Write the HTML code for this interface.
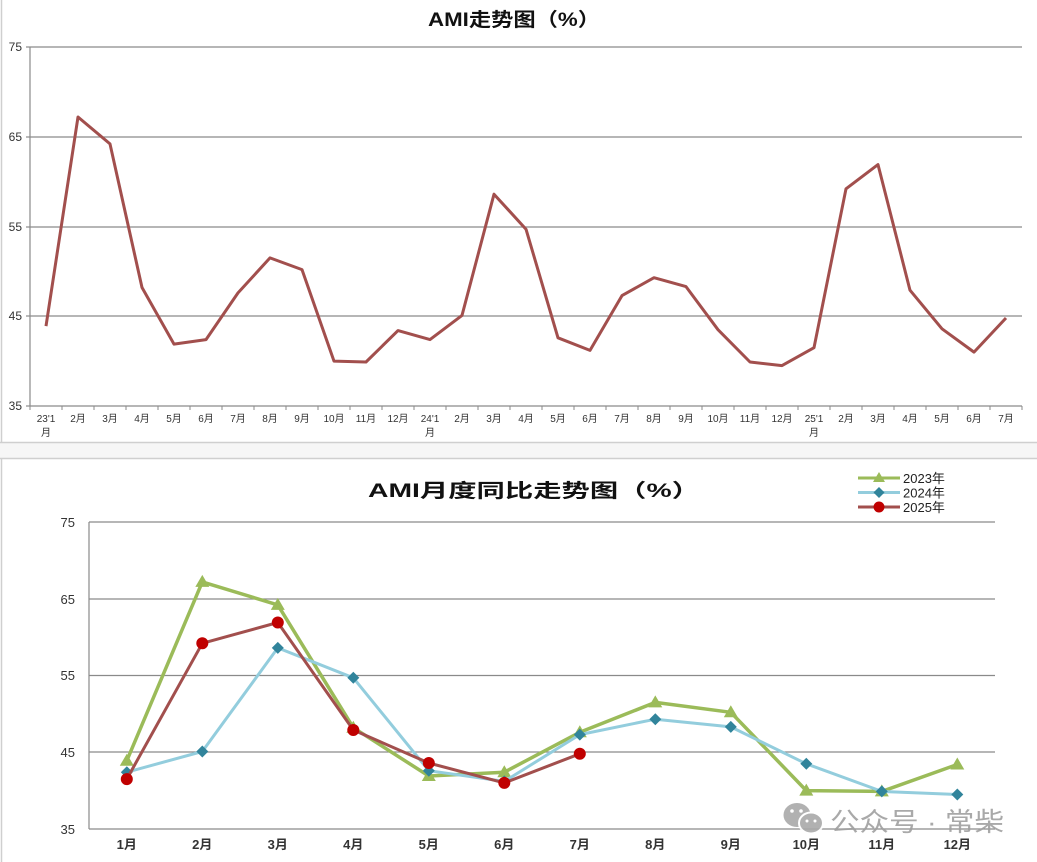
<!DOCTYPE html>
<html><head><meta charset="utf-8"><style>
html,body{margin:0;padding:0;background:#fff;}
svg{display:block;}
</style></head><body>
<svg width="1037" height="862" viewBox="0 0 1037 862" xmlns="http://www.w3.org/2000/svg" font-family="'Liberation Sans','Noto Sans CJK SC',sans-serif">
<rect x="0" y="0" width="1037" height="862" fill="#fff"/>
<!-- panel separation -->
<rect x="0" y="443" width="1037" height="15" fill="#f6f6f6"/>
<line x1="0" y1="442.5" x2="1037" y2="442.5" stroke="#cfcfcf" stroke-width="1.5"/>
<line x1="0" y1="458.5" x2="1037" y2="458.5" stroke="#cfcfcf" stroke-width="1.5"/>
<line x1="1.5" y1="0" x2="1.5" y2="442" stroke="#cfcfcf" stroke-width="1.5"/>
<line x1="1.5" y1="459" x2="1.5" y2="862" stroke="#cfcfcf" stroke-width="1.5"/>

<!-- ===== TOP CHART ===== -->
<text x="514" y="26" text-anchor="middle" font-size="19" font-weight="bold" fill="#111" textLength="172" lengthAdjust="spacingAndGlyphs">AMI走势图（%）</text>
<g stroke="#8a8a8a" stroke-width="1.2">
<line x1="30" y1="47" x2="1022" y2="47"/>
<line x1="30" y1="137" x2="1022" y2="137"/>
<line x1="30" y1="227" x2="1022" y2="227"/>
<line x1="30" y1="316" x2="1022" y2="316"/>
<line x1="30" y1="406" x2="1022" y2="406"/>
<line x1="30" y1="47" x2="30" y2="406"/>
<line x1="26" y1="47" x2="30" y2="47"/><line x1="26" y1="137" x2="30" y2="137"/><line x1="26" y1="227" x2="30" y2="227"/><line x1="26" y1="316" x2="30" y2="316"/><line x1="26" y1="406" x2="30" y2="406"/>
</g>
<g stroke="#8a8a8a" stroke-width="1">
<path d="M30 406v4M62 406v4M94 406v4M126 406v4M158 406v4M190 406v4M222 406v4M254 406v4M286 406v4M318 406v4M350 406v4M382 406v4M414 406v4M446 406v4M478 406v4M510 406v4M542 406v4M574 406v4M606 406v4M638 406v4M670 406v4M702 406v4M734 406v4M766 406v4M798 406v4M830 406v4M862 406v4M894 406v4M926 406v4M958 406v4M990 406v4M1022 406v4"/>
</g>
<g font-size="12" fill="#333" text-anchor="end">
<text x="22" y="51">75</text><text x="22" y="141">65</text><text x="22" y="231">55</text><text x="22" y="320">45</text><text x="22" y="410">35</text>
</g>
<g font-size="10" fill="#333" text-anchor="middle">
<text x="46" y="422">23'1</text><text x="46" y="436">月</text>
<text x="78" y="422">2月</text><text x="110" y="422">3月</text><text x="142" y="422">4月</text><text x="174" y="422">5月</text><text x="206" y="422">6月</text><text x="238" y="422">7月</text><text x="270" y="422">8月</text><text x="302" y="422">9月</text><text x="334" y="422">10月</text><text x="366" y="422">11月</text><text x="398" y="422">12月</text>
<text x="430" y="422">24'1</text><text x="430" y="436">月</text>
<text x="462" y="422">2月</text><text x="494" y="422">3月</text><text x="526" y="422">4月</text><text x="558" y="422">5月</text><text x="590" y="422">6月</text><text x="622" y="422">7月</text><text x="654" y="422">8月</text><text x="686" y="422">9月</text><text x="718" y="422">10月</text><text x="750" y="422">11月</text><text x="782" y="422">12月</text>
<text x="814" y="422">25'1</text><text x="814" y="436">月</text>
<text x="846" y="422">2月</text><text x="878" y="422">3月</text><text x="910" y="422">4月</text><text x="942" y="422">5月</text><text x="974" y="422">6月</text><text x="1006" y="422">7月</text>
</g>
<polyline fill="none" stroke="#a24f4d" stroke-width="3" stroke-linejoin="round" points="46,326.1 78,117 110,143.9 142,287.5 174,344.1 206,339.6 238,292.9 270,257.9 302,269.6 334,361.1 366,362 398,330.6 430,339.6 462,315.4 494,194.2 526,229.2 558,337.8 590,350.4 622,295.6 654,277.7 686,286.6 718,329.7 750,362 782,365.6 814,347.7 846,188.8 878,164.6 910,290.2 942,328.8 974,352.1 1006,318"/>

<!-- ===== BOTTOM CHART ===== -->
<text x="534" y="497" text-anchor="middle" font-size="19" font-weight="bold" fill="#111" textLength="332" lengthAdjust="spacingAndGlyphs">AMI月度同比走势图（%）</text>
<g stroke="#8a8a8a" stroke-width="1.2">
<line x1="89" y1="522" x2="995" y2="522"/>
<line x1="89" y1="599" x2="995" y2="599"/>
<line x1="89" y1="675.5" x2="995" y2="675.5"/>
<line x1="89" y1="752" x2="995" y2="752"/>
<line x1="89" y1="829" x2="995" y2="829"/>
<line x1="89" y1="522" x2="89" y2="829"/>
</g>
<g font-size="13" fill="#333" text-anchor="end">
<text x="75" y="527">75</text><text x="75" y="604">65</text><text x="75" y="680">55</text><text x="75" y="757">45</text><text x="75" y="834">35</text>
</g>
<g font-size="13" font-weight="bold" fill="#333" text-anchor="middle">
<text x="126.8" y="849">1月</text><text x="202.3" y="849">2月</text><text x="277.8" y="849">3月</text><text x="353.3" y="849">4月</text><text x="428.8" y="849">5月</text><text x="504.3" y="849">6月</text><text x="579.8" y="849">7月</text><text x="655.3" y="849">8月</text><text x="730.8" y="849">9月</text><text x="806.3" y="849">10月</text><text x="881.8" y="849">11月</text><text x="957.3" y="849">12月</text>
</g>
<defs>
<path id="tri" d="M0,-7 L7,5 L-7,5 Z" fill="#9bbb59"/>
<path id="dia" d="M0,-6 L6,0 L0,6 L-6,0 Z" fill="#31849b"/>
<circle id="cir" r="6" fill="#c00000"/>
</defs>
<!-- 2023 -->
<polyline fill="none" stroke="#9bbb59" stroke-width="3.5" stroke-linejoin="round" points="126.8,760.7 202.3,581.9 277.8,604.9 353.3,727.7 428.8,776 504.3,772.2 579.8,732.3 655.3,702.4 730.8,712.3 806.3,790.6 881.8,791.4 957.3,764.5"/>
<g>
<use href="#tri" x="126.8" y="760.7"/><use href="#tri" x="202.3" y="581.9"/><use href="#tri" x="277.8" y="604.9"/><use href="#tri" x="353.3" y="727.7"/><use href="#tri" x="428.8" y="776"/><use href="#tri" x="504.3" y="772.2"/><use href="#tri" x="579.8" y="732.3"/><use href="#tri" x="655.3" y="702.4"/><use href="#tri" x="730.8" y="712.3"/><use href="#tri" x="806.3" y="790.6"/><use href="#tri" x="881.8" y="791.4"/><use href="#tri" x="957.3" y="764.5"/>
</g>
<!-- 2024 -->
<polyline fill="none" stroke="#93cddd" stroke-width="3" stroke-linejoin="round" points="126.8,772.2 202.3,751.5 277.8,647.9 353.3,677.8 428.8,770.7 504.3,781.4 579.8,734.6 655.3,719.2 730.8,726.9 806.3,763.8 881.8,791.4 957.3,794.5"/>
<g>
<use href="#dia" x="126.8" y="772.2"/><use href="#dia" x="202.3" y="751.5"/><use href="#dia" x="277.8" y="647.9"/><use href="#dia" x="353.3" y="677.8"/><use href="#dia" x="428.8" y="770.7"/><use href="#dia" x="504.3" y="781.4"/><use href="#dia" x="579.8" y="734.6"/><use href="#dia" x="655.3" y="719.2"/><use href="#dia" x="730.8" y="726.9"/><use href="#dia" x="806.3" y="763.8"/><use href="#dia" x="881.8" y="791.4"/><use href="#dia" x="957.3" y="794.5"/>
</g>
<!-- 2025 -->
<polyline fill="none" stroke="#a24f4d" stroke-width="3" stroke-linejoin="round" points="126.8,779.1 202.3,643.3 277.8,622.5 353.3,730 428.8,763 504.3,782.9 579.8,753.8"/>
<g>
<use href="#cir" x="126.8" y="779.1"/><use href="#cir" x="202.3" y="643.3"/><use href="#cir" x="277.8" y="622.5"/><use href="#cir" x="353.3" y="730"/><use href="#cir" x="428.8" y="763"/><use href="#cir" x="504.3" y="782.9"/><use href="#cir" x="579.8" y="753.8"/>
</g>
<!-- legend -->
<line x1="858" y1="478" x2="900" y2="478" stroke="#9bbb59" stroke-width="3"/>
<path d="M879,472 L885,482 L873,482 Z" fill="#9bbb59"/>
<line x1="858" y1="492.5" x2="900" y2="492.5" stroke="#93cddd" stroke-width="3"/>
<path d="M879,487 L884.5,492.5 L879,498 L873.5,492.5 Z" fill="#31849b"/>
<line x1="858" y1="507" x2="900" y2="507" stroke="#a24f4d" stroke-width="3"/>
<circle cx="879" cy="507" r="5.5" fill="#c00000"/>
<g font-size="13" fill="#222">
<text x="903" y="483">2023年</text><text x="903" y="497.5">2024年</text><text x="903" y="512">2025年</text>
</g>
<!-- watermark -->
<g opacity="0.9">
<ellipse cx="797" cy="815" rx="13.5" ry="12" fill="#a9a9a9"/>
<ellipse cx="811" cy="823" rx="12" ry="10.5" fill="#a9a9a9" stroke="#fff" stroke-width="2"/>
<circle cx="792" cy="811" r="1.8" fill="#fff"/><circle cx="801" cy="811" r="1.8" fill="#fff"/>
<circle cx="807" cy="821" r="1.5" fill="#fff"/><circle cx="815" cy="821" r="1.5" fill="#fff"/>
<text x="830" y="831" font-size="26" fill="#a0a0a0" font-family="'Liberation Sans','Noto Sans CJK SC',sans-serif" textLength="174" lengthAdjust="spacingAndGlyphs">公众号 · 常柴</text>
</g>
</svg>
</body></html>
